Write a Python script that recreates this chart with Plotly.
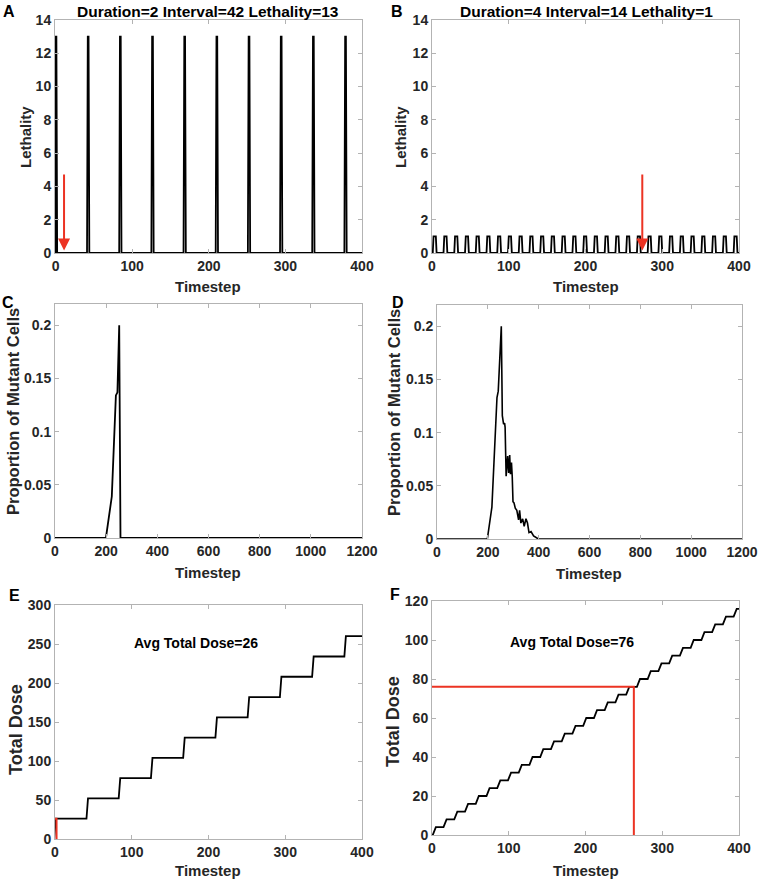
import plotly.graph_objects as go

W, H = 761, 883

# ---------------- data ----------------
# Panel A / E : Duration=2 Interval=42 Lethality=13
A_duration = 2
A_lethality = 13
A_pulse_starts = [0, 42, 84, 126, 168, 210, 252, 294, 336, 378]
A_arrow_t = 11
A_arrow_from, A_arrow_to = 4.8, 0.15

# Panel B / F : Duration=4 Interval=14 Lethality=1
B_duration = 4
B_lethality = 1
B_pulse_starts = [2, 16, 30, 44, 58, 72, 86, 100, 114, 128, 142, 156, 170, 184, 198,
                  212, 226, 240, 254, 268, 282, 296, 310, 324, 338, 352, 366, 380, 394]
B_arrow_t = 274
B_arrow_from, B_arrow_to = 4.8, 0.15

# Panel C : proportion of mutant cells
C_t = [0, 199, 222, 238, 244, 246, 251, 256, 1200]
C_p = [0, 0, 0.039, 0.134, 0.137, 0.165, 0.2, 0, 0]

# Panel D : proportion of mutant cells
D_t = [0, 198, 216, 236, 241, 245, 253, 257, 262, 266, 268, 272, 278, 282, 286, 289, 293,
       296, 299, 303, 308, 314, 321, 325, 330, 337, 343, 350, 356, 362, 370, 380, 390, 399, 1200]
D_p = [0, 0, 0.030, 0.133, 0.139, 0.166, 0.2, 0.116, 0.108, 0.109, 0.105, 0.059, 0.078, 0.062,
       0.079, 0.061, 0.072, 0.059, 0.035, 0.034, 0.029, 0.027, 0.018, 0.027, 0.015, 0.019, 0.012,
       0.019, 0.015, 0.006, 0.007, 0.003, 0.001, 0, 0]

# Panel E : total dose
E_dose_levels = [26, 52, 78, 104, 130, 156, 182, 208, 234, 260]
E_avg_dose = 26
E_cross_t = 2

# Panel F : total dose
F_dose_levels = [4, 8, 12, 16, 20, 24, 28, 32, 36, 40, 44, 48, 52, 56, 60, 64, 68, 72, 76,
                 80, 84, 88, 92, 96, 100, 104, 108, 112, 116]
F_avg_dose = 76
F_cross_t = 263

T_MAX = 400
x_ticks_short = [0, 100, 200, 300, 400]
x_ticks_long = [0, 200, 400, 600, 800, 1000, 1200]
y_ticks_leth = [0, 2, 4, 6, 8, 10, 12, 14]
y_ticks_prop = [0, 0.05, 0.1, 0.15, 0.2]
y_ticklabels_prop = ["0", "0.05", "0.1", "0.15", "0.2"]
y_ticks_doseE = [0, 50, 100, 150, 200, 250, 300]
y_ticks_doseF = [0, 20, 40, 60, 80, 100, 120]

# ---------------- helpers ----------------
def pulse_xy(starts, dur, leth, tmax):
    xs, ys = [0], [0]
    for s in starts:
        if s > 0:
            xs.append(s - 1); ys.append(0)
        xs += [s, s + dur - 1, s + dur]
        ys += [leth, leth, 0]
    xs.append(tmax); ys.append(0)
    return xs, ys


def dose_xy(starts, dur, levels, tmax):
    xs, ys = [0], [0]
    prev = 0
    for s, lv in zip(starts, levels):
        xs += [s - 1, s + dur - 1]
        ys += [prev, lv]
        prev = lv
    xs.append(tmax); ys.append(prev)
    return xs, ys


def px(a):
    return a / W


def py(b):
    return 1 - b / H


def dx(a, b):
    return [px(a), px(b)]


def dy(top, bottom):
    return [py(bottom), py(top)]


BLACK = "#000000"
RED = "#ec3323"
AXC = "#b3b3b3"
TXT = "#262626"
FONT = "Liberation Sans"

fig = go.Figure()

ax_, ay_ = pulse_xy(A_pulse_starts, A_duration, A_lethality, T_MAX)
fig.add_trace(go.Scatter(x=ax_, y=ay_, mode="lines", line=dict(color=BLACK, width=1.8),
                         xaxis="x", yaxis="y"))
bx_, by_ = pulse_xy(B_pulse_starts, B_duration, B_lethality, T_MAX)
fig.add_trace(go.Scatter(x=bx_, y=by_, mode="lines", line=dict(color=BLACK, width=1.8),
                         xaxis="x2", yaxis="y2"))
fig.add_trace(go.Scatter(x=C_t, y=C_p, mode="lines", line=dict(color=BLACK, width=1.8),
                         xaxis="x3", yaxis="y3"))
fig.add_trace(go.Scatter(x=D_t, y=D_p, mode="lines", line=dict(color=BLACK, width=1.6),
                         xaxis="x4", yaxis="y4"))
ex_, ey_ = dose_xy(A_pulse_starts, A_duration, E_dose_levels, T_MAX)
fig.add_trace(go.Scatter(x=ex_, y=ey_, mode="lines", line=dict(color=BLACK, width=1.8),
                         xaxis="x5", yaxis="y5"))
fig.add_trace(go.Scatter(x=[0, E_cross_t, E_cross_t], y=[E_avg_dose, E_avg_dose, 0], mode="lines",
                         line=dict(color=RED, width=2), xaxis="x5", yaxis="y5"))
fx_, fy_ = dose_xy(B_pulse_starts, B_duration, F_dose_levels, T_MAX)
fig.add_trace(go.Scatter(x=fx_, y=fy_, mode="lines", line=dict(color=BLACK, width=1.8),
                         xaxis="x6", yaxis="y6"))
fig.add_trace(go.Scatter(x=[0, F_cross_t, F_cross_t], y=[F_avg_dose, F_avg_dose, 0], mode="lines",
                         line=dict(color=RED, width=2), xaxis="x6", yaxis="y6"))


def xax(domain, rng, ticks, anchor):
    return dict(domain=domain, range=rng, tickvals=ticks, anchor=anchor, automargin=False,
                showline=True, mirror="ticks", linecolor=AXC, linewidth=1,
                ticks="inside", ticklen=4, tickcolor=AXC, showgrid=False, zeroline=False,
                tickfont=dict(family=FONT, size=14, color=TXT, weight="bold"))


def yax(domain, rng, ticks, anchor, ticktext=None):
    d = xax(domain, rng, ticks, anchor)
    if ticktext is not None:
        d["ticktext"] = ticktext
    return d


xa = dx(55, 362)
xb = dx(432, 739)
xd = dx(437, 742)
r1 = dy(20, 253)
r2c = dy(304, 538)
r2d = dy(305, 539)
r3e = dy(605, 839)
r3f = dy(601, 835)

fig.update_layout(
    template="none",
    width=W, height=H, margin=dict(l=0, r=0, t=0, b=0, pad=0),
    paper_bgcolor="white", plot_bgcolor="white", showlegend=False,
    xaxis=xax(xa, [-0.8, 400], x_ticks_short, "y"),
    yaxis=yax(r1, [0, 14], y_ticks_leth, "x"),
    xaxis2=xax(xb, [0, 400], x_ticks_short, "y2"),
    yaxis2=yax(r1, [0, 14], y_ticks_leth, "x2"),
    xaxis3=xax(xa, [0, 1200], x_ticks_long, "y3"),
    yaxis3=yax(r2c, [0, 0.22], y_ticks_prop, "x3", y_ticklabels_prop),
    xaxis4=xax(xd, [0, 1200], x_ticks_long, "y4"),
    yaxis4=yax(r2d, [0, 0.22], y_ticks_prop, "x4", y_ticklabels_prop),
    xaxis5=xax(xa, [0, 400], x_ticks_short, "y5"),
    yaxis5=yax(r3e, [0, 300], y_ticks_doseE, "x5"),
    xaxis6=xax(xb, [0, 400], x_ticks_short, "y6"),
    yaxis6=yax(r3f, [0, 120], y_ticks_doseF, "x6"),
)

ann = []


def txt(x, y, s, size, angle=0, color=BLACK):
    ann.append(dict(x=px(x), y=py(y), xref="paper", yref="paper", text=s,
                    showarrow=False, textangle=angle, xanchor="center", yanchor="middle",
                    font=dict(family=FONT, size=size, color=color, weight="bold")))


# titles and panel letters
txt(208, 11, "Duration=2 Interval=42 Lethality=13", 15.5)
txt(586, 11, "Duration=4 Interval=14 Lethality=1", 15.5)
txt(9, 11, "A", 16)
txt(397, 11, "B", 16)
txt(8, 302, "C", 16)
txt(398, 302, "D", 16)
txt(14, 595, "E", 16)
txt(395, 594, "F", 16)

# axis titles
for cx, cy in [(208, 287), (586, 287), (208, 572), (589, 573), (208, 870), (586, 870)]:
    txt(cx, cy, "Timestep", 15, color=TXT)
txt(25, 137, "Lethality", 15, -90, TXT)
txt(400, 137, "Lethality", 15, -90, TXT)
txt(13, 412, "Proportion of Mutant Cells", 16.5, -90, TXT)
txt(394, 412, "Proportion of Mutant Cells", 16.5, -90, TXT)
txt(16, 730, "Total Dose", 18, -90, TXT)
txt(393, 722, "Total Dose", 18, -90, TXT)

# in-plot text
ann.append(dict(x=184, y=251, xref="x5", yref="y5", text="Avg Total Dose=26", showarrow=False,
                font=dict(family=FONT, size=14, color=BLACK, weight="bold")))
ann.append(dict(x=183, y=99, xref="x6", yref="y6", text="Avg Total Dose=76", showarrow=False,
                font=dict(family=FONT, size=14, color=BLACK, weight="bold")))

# red arrows
ann.append(dict(x=A_arrow_t, y=A_arrow_to, ax=A_arrow_t, ay=A_arrow_from, xref="x", yref="y",
                axref="x", ayref="y", text="", showarrow=True, arrowhead=2, arrowsize=1.2,
                arrowwidth=2, arrowcolor=RED, standoff=0))
ann.append(dict(x=B_arrow_t, y=B_arrow_to, ax=B_arrow_t, ay=B_arrow_from, xref="x2", yref="y2",
                axref="x2", ayref="y2", text="", showarrow=True, arrowhead=2, arrowsize=1.2,
                arrowwidth=2, arrowcolor=RED, standoff=0))

fig.update_layout(annotations=ann)
fig.write_html("out.html", config={"displayModeBar": False},
               post_script="document.body.style.margin='0px';document.body.style.padding='0px';")
